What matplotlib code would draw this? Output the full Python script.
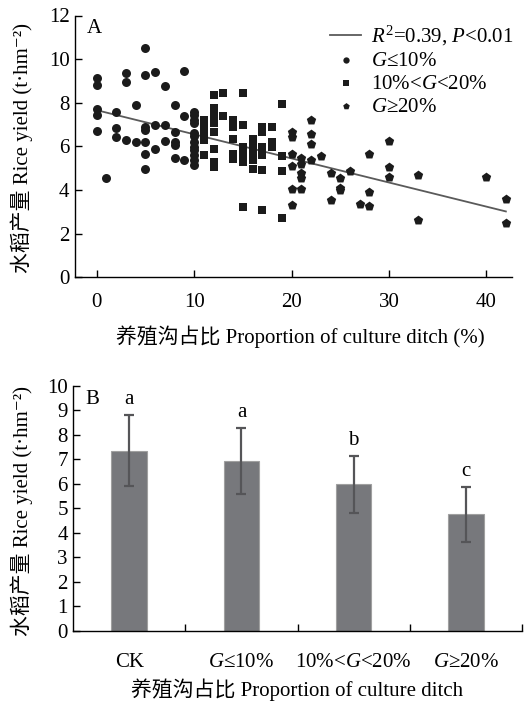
import matplotlib
matplotlib.use('Agg')
import matplotlib.pyplot as plt
from matplotlib.ticker import FixedLocator, NullFormatter

plt.rcParams['font.family'] = ['Liberation Serif', 'Noto Sans CJK SC', 'DejaVu Sans']
plt.rcParams['mathtext.fontset'] = 'custom'
plt.rcParams['mathtext.rm'] = 'Liberation Serif'
plt.rcParams['mathtext.it'] = 'Liberation Serif:italic'
plt.rcParams['font.size'] = 15

# ---------------- Data: panel A ----------------
circle_x = [0, 0, 0, 0, 0, 1, 2, 2, 2, 3, 3, 3, 4, 4, 5, 5, 5, 5, 5, 5, 5,
            6, 6, 6, 7, 7, 7, 8, 8, 8, 8, 8, 9, 9, 9,
            10, 10, 10, 10, 10, 10, 10, 10, 10, 10, 10, 10]
circle_y = [9.15, 8.8, 7.7, 7.45, 6.7, 4.53, 7.58, 6.85, 6.44, 9.37, 8.96, 6.28,
            7.89, 6.2, 10.49, 9.27, 6.9, 6.77, 6.2, 5.64, 4.95,
            9.42, 7.0, 5.9, 8.76, 7.0, 6.25, 7.92, 6.64, 6.2, 6.05, 5.47,
            9.45, 7.39, 5.37,
            7.58, 7.43, 7.2, 7.05, 6.6, 6.47, 6.2, 5.98, 5.83, 5.6, 5.37, 5.17]

square_x = [11, 11, 11, 11, 11, 12, 12, 12, 12, 12, 12, 12, 12, 13, 13,
            14, 14, 14, 14, 14, 15, 15, 15, 15, 15, 15, 16, 16, 16, 16, 16,
            17, 17, 17, 17, 17, 17, 18, 18, 18, 19, 19, 19, 19]
square_y = [7.2, 6.9, 6.58, 6.28, 5.6, 8.35, 7.74, 7.43, 7.05, 6.67, 5.86, 5.29, 5.06,
            8.46, 7.39, 7.2, 6.9, 6.36, 5.67, 5.44, 8.46, 6.97, 5.98, 5.6, 5.29, 3.2,
            6.36, 5.98, 5.67, 5.37, 4.98, 6.9, 6.67, 5.98, 5.6, 4.9, 3.07,
            6.9, 6.2, 5.98, 7.94, 5.57, 4.86, 2.72]

penta_x = [20, 20, 20, 20, 20, 20, 21, 21, 21, 21, 21, 22, 22, 22, 22, 23,
           24, 24, 25, 25, 25, 26, 27, 28, 28, 28, 30, 30, 30, 33, 33, 40, 42, 42]
penta_y = [6.67, 6.44, 5.67, 5.09, 4.07, 3.33, 5.47, 5.21, 4.76, 4.53, 4.07,
           7.23, 6.56, 6.09, 5.37, 5.55, 4.78, 3.56, 4.53, 4.11, 3.99, 4.86, 3.38,
           5.64, 3.9, 3.26, 6.25, 5.06, 4.6, 4.68, 2.61, 4.6, 3.61, 2.51]

fit_x = [0, 42]
fit_intercept = 7.66
fit_slope = -0.1105

x_ticks_a = [0, 10, 20, 30, 40]
y_ticks_a = [0, 2, 4, 6, 8, 10, 12]

# ---------------- Data: panel B ----------------
groups = ['CK', '$G$≤10%', '10%<$G$<20%', '$G$≥20%']
means = [7.36, 6.93, 5.98, 4.75]
sds = [1.45, 1.35, 1.16, 1.13]
letters = ['a', 'a', 'b', 'c']
y_ticks_b = [0, 1, 2, 3, 4, 5, 6, 7, 8, 9, 10]

ylab = '水稻产量 Rice yield (t·hm⁻²)'
xlab_a = '养殖沟占比 Proportion of culture ditch (%)'
xlab_b = '养殖沟占比 Proportion of culture ditch'

W, H = 529, 702
fig = plt.figure(figsize=(W / 100, H / 100), dpi=100)

def fx(px):
    return px / W

def fy(py):
    return 1 - py / H

mk = '#1b1b1b'

# ---------------- Panel A ----------------
axA = fig.add_axes([fx(75), fy(277.3), (511.7 - 75) / W, (277.3 - 15.5) / H])
axA.plot(fit_x, [fit_intercept + fit_slope * v for v in fit_x], color='#5a5a5a', lw=1.3,
         label='$R^2$=0.39, $P$<0.01', zorder=2)
axA.scatter(circle_x, circle_y, marker='o', s=42, color=mk, lw=0, label='$G$≤10%', zorder=3)
axA.scatter(square_x, square_y, marker='s', s=40, color=mk, lw=0, label='10%<$G$<20%', zorder=3)
axA.scatter(penta_x, penta_y, marker='p', s=50, color=mk, lw=0, label='$G$≥20%', zorder=3)
axA.set_xlim(-2.23, 42.6)
axA.set_ylim(0, 12)
axA.set_xticks(x_ticks_a)
axA.set_yticks(y_ticks_a)
for s in ['top', 'right']:
    axA.spines[s].set_visible(False)
for s in ['left', 'bottom']:
    axA.spines[s].set_linewidth(1.0)
axA.tick_params(axis='x', direction='in', length=5, width=1, pad=11, labelsize=15)
axA.tick_params(axis='y', direction='in', length=5, width=1, pad=4, labelsize=15)
axA.text(0.027, 0.985, 'A', transform=axA.transAxes, ha='left', va='top', fontsize=15)
leg = axA.legend(loc='upper left', bbox_to_anchor=(0.585, 0.968), frameon=False,
                 handlelength=1.45, handletextpad=0.5, labelspacing=0.16,
                 borderpad=0, borderaxespad=0, markerscale=0.7, fontsize=15)

fig.text(fx(300.8), fy(336.7), xlab_a, ha='center', va='center', fontsize=15)
fig.text(fx(22), fy(148), ylab, rotation=90, ha='center', va='center', fontsize=15)

# ---------------- Panel B ----------------
axB = fig.add_axes([fx(73.3), fy(630.7), (521.7 - 73.3) / W, (630.7 - 386) / H])
xpos = list(range(len(groups)))
axB.bar(xpos, means, width=0.32, color='#77787c', edgecolor='#a0a0a0', linewidth=0.8, zorder=2)
axB.errorbar(xpos, means, yerr=sds, fmt='none', ecolor='#555558', elinewidth=1.6,
             capsize=3.5, capthick=1.6, zorder=3)
for xi, m, sd, lt in zip(xpos, means, sds, letters):
    axB.text(xi, m + sd + 0.45, lt, ha='center', va='baseline', fontsize=15)
axB.set_xlim(-0.5, 3.5)
axB.set_ylim(0, 10)
axB.set_yticks(y_ticks_b)
axB.set_xticks(xpos)
axB.set_xticklabels(groups)
axB.xaxis.set_minor_locator(FixedLocator([0.5, 1.5, 2.5, 3.5]))
axB.xaxis.set_minor_formatter(NullFormatter())
for s in ['top', 'right']:
    axB.spines[s].set_visible(False)
for s in ['left', 'bottom']:
    axB.spines[s].set_linewidth(1.0)
axB.tick_params(axis='x', which='major', length=0, pad=16, labelsize=15)
axB.tick_params(axis='x', which='minor', direction='in', length=5, width=1)
axB.tick_params(axis='y', direction='in', length=5, width=1, pad=4, labelsize=15)
axB.text(0.027, 0.985, 'B', transform=axB.transAxes, ha='left', va='top', fontsize=15)

fig.text(fx(297), fy(690), xlab_b, ha='center', va='center', fontsize=15)
fig.text(fx(22), fy(511), ylab, rotation=90, ha='center', va='center', fontsize=15)

fig.savefig('out.png', dpi=100)
